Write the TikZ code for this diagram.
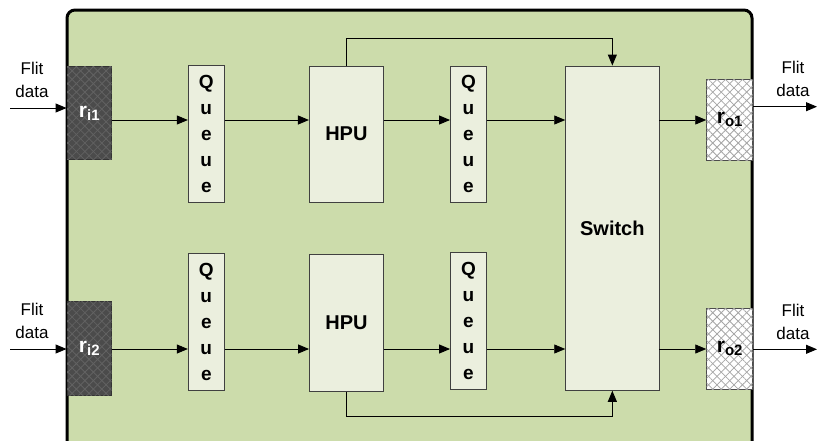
\documentclass[tikz,border=0pt]{standalone}
\usepackage{fontspec}
\setmainfont{Liberation Sans}
\usetikzlibrary{arrows.meta,patterns.meta}
\definecolor{outerg}{HTML}{CCDCAB}
\definecolor{cream}{HTML}{EBEFDE}
\definecolor{darkin}{HTML}{4B4B4B}
\definecolor{hatchin}{HTML}{626262}
\definecolor{hatchout}{HTML}{A5A5A5}
\begin{document}
\begin{tikzpicture}[x=1pt,y=-1pt,
  >={Triangle[length=11pt,width=9pt]},
  conn/.style={line width=0.9pt,draw=black},
  box/.style={draw=black!75,fill=cream,line width=0.9pt,inner sep=0pt,align=center},
  qbox/.style={box,minimum width=36pt,minimum height=136.5pt,font=\fontsize{19}{26}\selectfont\bfseries},
  hbox/.style={box,minimum width=74pt,minimum height=136.5pt,font=\fontsize{20}{24}\selectfont\bfseries},
  rin/.style={draw=black!80,line width=0.9pt,fill=darkin,inner sep=0pt,minimum width=44.5pt,minimum height=93.5pt,text=white,
    postaction={pattern={Lines[angle=45,distance=6pt,line width=0.8pt]},pattern color=hatchin},
    postaction={pattern={Lines[angle=-45,distance=6pt,line width=0.8pt]},pattern color=hatchin}},
  rout/.style={draw=black!70,line width=0.9pt,fill=white,inner sep=0pt,minimum width=46pt,minimum height=81pt,text=black,
    postaction={pattern={Lines[angle=45,distance=6pt,line width=0.8pt]},pattern color=hatchout},
    postaction={pattern={Lines[angle=-45,distance=6pt,line width=0.8pt]},pattern color=hatchout}},
  lbl/.style={align=center,font=\fontsize{17}{23}\selectfont,inner sep=0pt}
]
\clip (0,0) rectangle (817,440);
% outer frame
\draw[fill=outerg,line width=3pt,rounded corners=8pt] (67,10) rectangle (752,480);

% nodes
\node[rin] (ri1) at (89.25,113) {\fontsize{21}{24}\selectfont\bfseries r\raisebox{-3pt}{\fontsize{15}{15}\selectfont i1}};
\node[rin] (ri2) at (89.25,348.3) {\fontsize{21}{24}\selectfont\bfseries r\raisebox{-3pt}{\fontsize{15}{15}\selectfont i2}};
\node[qbox] (q1a) at (206.3,133.75) {Q\\u\\e\\u\\e};
\node[hbox] (h1) at (346.4,134.2) {HPU};
\node[qbox] (q2a) at (468.5,134.25) {Q\\u\\e\\u\\e};
\node[qbox] (q1b) at (206.3,321.85) {Q\\u\\e\\u\\e};
\node[hbox] (h2) at (346.5,322.85) {HPU};
\node[qbox] (q2b) at (468.5,320.85) {Q\\u\\e\\u\\e};
\node[box,minimum width=93.3pt,minimum height=324.3pt,font=\fontsize{20}{24}\selectfont\bfseries] (sw) at (612.35,228.15) {Switch};
\node[rout] (ro1) at (729.7,119.65) {\fontsize{21}{24}\selectfont\bfseries r\raisebox{-3pt}{\fontsize{15}{15}\selectfont o1}};
\node[rout] (ro2) at (729.7,348.65) {\fontsize{21}{24}\selectfont\bfseries r\raisebox{-3pt}{\fontsize{15}{15}\selectfont o2}};

% labels
\node[lbl] (fl1) at (32,80) {Flit\\data};
\node[lbl] (fl2) at (32,321) {Flit\\data};
\node[lbl] (fl3) at (793,79) {Flit\\data};
\node[lbl] (fl4) at (793,322) {Flit\\data};

% rows
\coordinate (rowA) at (0,120);
\coordinate (rowB) at (0,349);
\coordinate (topL) at (0,38.3);
\coordinate (botL) at (0,416);
\coordinate (inA) at (10,108);
\coordinate (inB) at (10,349);
\coordinate (outA) at (817,106.7);
\coordinate (outB) at (817,349.3);

\draw[conn,->] (inA) -- (ri1.west |- inA);
\draw[conn,->] (inB) -- (ri2.west |- inB);
\draw[conn,->] (ri1.east |- rowA) -- (q1a.west |- rowA);
\draw[conn,->] (q1a.east |- rowA) -- (h1.west |- rowA);
\draw[conn,->] (h1.east |- rowA) -- (q2a.west |- rowA);
\draw[conn,->] (q2a.east |- rowA) -- (sw.west |- rowA);
\draw[conn,->] (sw.east |- rowA) -- (ro1.west |- rowA);
\draw[conn,->] (ri2.east |- rowB) -- (q1b.west |- rowB);
\draw[conn,->] (q1b.east |- rowB) -- (h2.west |- rowB);
\draw[conn,->] (h2.east |- rowB) -- (q2b.west |- rowB);
\draw[conn,->] (q2b.east |- rowB) -- (sw.west |- rowB);
\draw[conn,->] (sw.east |- rowB) -- (ro2.west |- rowB);
\draw[conn,->] (ro1.east |- outA) -- (outA);
\draw[conn,->] (ro2.east |- outB) -- (outB);
\draw[conn,->] (h1.north) -- (h1.north |- topL) -- (sw.north |- topL) -- (sw.north);
\draw[conn,->] (h2.south) -- (h2.south |- botL) -- (sw.south |- botL) -- (sw.south);
\end{tikzpicture}
\end{document}
